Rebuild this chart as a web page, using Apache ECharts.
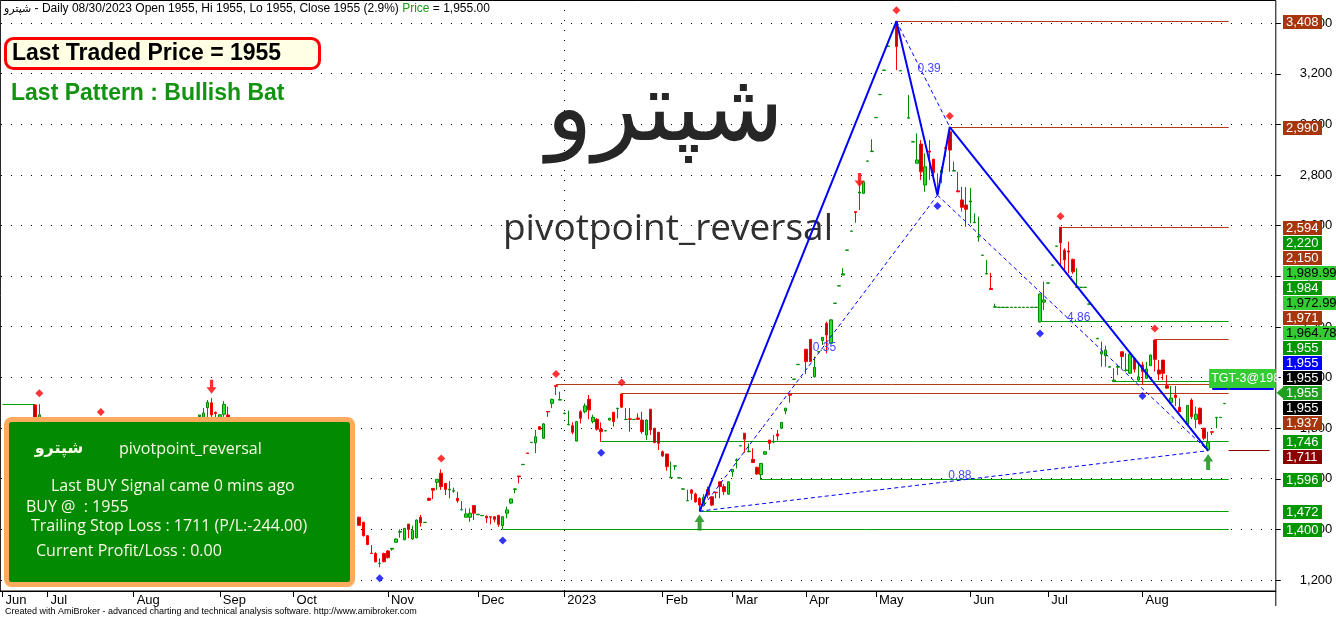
<!DOCTYPE html>
<html><head><meta charset="utf-8">
<script src="https://cdn.jsdelivr.net/npm/echarts@6/dist/echarts.min.js"></script>
<style>html,body{margin:0;padding:0;background:#fff;overflow:hidden}#c{width:1336px;height:619px}</style>
</head><body><div id="c"></div><script>
// ---------- DATA ----------
const monthNames = ['Jun','Jul','Aug','Sep','Oct','Nov','Dec','2023','Feb','Mar','Apr','May','Jun','Jul','Aug'];
const priceTicks = [1200,1400,1600,1800,2000,2200,2400,2600,2800,3000,3200,3400];
// daily bars per month: [open, close, low, high]; null = not visible (hidden behind the info panel / no bar)
const jun22 = [null,null,null,null,null,null,null,null,[1892,1830,1815,1892],[1830,1853,1812,1895],null];
const jul22 = [null,null,null,null,null,null,null,null,null,null,null,null,null,null,null,null,null,null,null,null,null];
const aug22 = [null,null,null,null,null,null,null,null,null,null,null,null,null,null,null,null,
  [1846,1852,1840,1853],[1820,1860,1810,1880],[1881,1902,1830,1911],[1900,1852,1840,1919],[1862,1858,1840,1866]];
const sep22 = [[1830,1853,1820,1855],[1855,1894,1845,1907],[1852,1820,1810,1885],
  null,null,null,null,null,null,null,null,null,null,null,null,null,null,null];
const oct22 = [null,null,null,null,null,null,null,null,null,null,null,null,null,null,null,null,
  [1448,1416,1414,1450],[1428,1375,1372,1430],[1375,1340,1338,1377],[1306,1305,1305,1338],[1305,1272,1270,1310],[1265,1266,1250,1286],[1305,1272,1270,1308]];
const nov22 = [[1315,1288,1285,1318],[1322,1325,1316,1326],[1349,1362,1347,1364],[1389,1392,1367,1400],[1359,1404,1357,1406],[1421,1400,1365,1421],[1362,1395,1358,1415],[1367,1437,1365,1439],[1448,1426,1411,1457],[1427,1428,1427,1428],[1523,1515,1513,1525],[1562,1555,1520,1562],[1586,1598,1556,1598],[1622,1569,1556,1637],[1582,1558,1536,1582],[1556,1559,1523,1591],[1551,1553,1545,1565],[1523,1513,1505,1549],[1477,1478,1477,1512],[1448,1461,1448,1483],[1448,1464,1430,1483],[1494,1464,1437,1494]];
const dec22 = [[1458,1460,1458,1460],[1454,1455,1454,1455],[1452,1445,1425,1455],[1450,1448,1420,1452],[1450,1440,1428,1452],[1455,1420,1410,1458],[1415,1450,1400,1452],[1464,1477,1444,1490],[1504,1520,1500,1522],[1558,1560,1543,1562],[1611,1608,1582,1611],[1656,1657,1656,1657],[1702,1700,1700,1702],[1743,1744,1743,1744],[1742,1766,1701,1793],[1806,1795,1793,1808],[1760,1817,1758,1819],[1866,1864,1845,1866],[1898,1914,1879,1916],[1968,1965,1931,1971],[1911,1913,1911,1944]];
const jan23 = [[1858,1859,1855,1862],[1813,1815,1813,1869],[1810,1784,1776,1823],[1749,1826,1747,1828],[1865,1839,1819,1871],[1865,1888,1859,1898],[1914,1872,1835,1931],[1826,1843,1819,1853],[1835,1796,1790,1840],[1796,1786,1746,1823],[1789,1790,1789,1790],[1832,1839,1830,1841],[1863,1826,1806,1863],[1877,1879,1839,1879],[1935,1883,1880,1937],[1834,1835,1832,1879],[1837,1835,1786,1880],[1834,1835,1833,1836],[1840,1835,1832,1858],[1832,1786,1778,1865],[1773,1832,1753,1835],[1875,1793,1773,1875],[1800,1743,1740,1800],[1784,1740,1714,1784]];
const feb23 = [[1707,1690,1686,1712],[1698,1648,1632,1698],[1604,1606,1604,1668],[1650,1651,1635,1651],[1603,1604,1603,1604],[1559,1560,1559,1560],[1513,1514,1513,1557],[1556,1543,1517,1558],[1540,1509,1505,1545],[1523,1496,1472,1527],[1494,1527,1490,1539],[1558,1536,1523,1569],[1529,1496,1492,1531],[1547,1545,1523,1548],[1588,1569,1523,1588],[1569,1549,1536,1579],[1539,1588,1537,1590]];
const mar23 = [[1627,1637,1608,1638],[1672,1675,1641,1681],[1730,1731,1730,1731],[1780,1756,1703,1780],[1707,1709,1705,1740],[1677,1664,1664,1720],[1645,1619,1615,1648],[1616,1661,1595,1662],[1697,1707,1695,1708],[1753,1740,1714,1753],[1745,1748,1740,1773],[1777,1769,1751,1793],[1800,1823,1798,1824],[1868,1879,1855,1880],[1934,1930,1901,1934],[1993,1994,1993,1994],[2051,2052,2051,2052],null];
const apr23 = [[2112,2063,2014,2112],[2151,2063,2063,2151],[2003,2041,2000,2083],[2101,2102,2101,2102],[2146,2159,2129,2160],[2214,2168,2096,2221],[2135,2228,2133,2230],[2293,2294,2293,2294],[2362,2363,2362,2363],[2405,2410,2405,2432],[2503,2504,2503,2504],[2578,2579,2578,2579],[2656,2652,2612,2656],[2729,2733,2662,2781],[2728,2774,2726,2776],[2855,2856,2855,2856],[2893,2895,2893,2942]];
const may23 = [[3027,3028,3027,3028],[3118,3119,3118,3119],[3214,3215,3214,3215],[3309,3310,3309,3310],null,[3408,3308,3215,3408],[3212,3213,3212,3213],null,[3025,3027,3025,3117],[2931,2932,2931,2935],[2847,2860,2847,2965],[2923,2813,2781,2939],[2761,2833,2734,2886],[2895,2891,2781,2939],[2863,2810,2781,2863],[2728,2744,2721,2807],[2810,2820,2768,2833],[2908,2906,2873,2910],[2971,2899,2813,2990],[2816,2818,2816,2853],[2738,2734,2734,2813],[2702,2673,2656,2754],[2682,2665,2596,2752]];
const jun23 = [[2694,2698,2610,2749],[2612,2614,2612,2649],[2555,2558,2537,2636],[2483,2484,2483,2484],[2409,2411,2409,2465],[2352,2348,2346,2414],[2278,2280,2278,2292],[2277,2278,2277,2278],[2277,2278,2277,2278],[2277,2278,2277,2278],[2277,2278,2277,2278],[2277,2278,2277,2278],[2277,2278,2277,2278],[2277,2278,2277,2278],[2277,2278,2277,2278],[2277,2278,2277,2278],[2277,2278,2277,2278],[2220,2330,2218,2332],[2298,2307,2267,2379]];
const jul23 = [[2373,2374,2373,2374],[2444,2445,2444,2445],[2519,2520,2519,2520],[2594,2533,2445,2594],[2504,2465,2425,2511],[2500,2496,2412,2537],[2467,2418,2410,2470],[2357,2359,2357,2432],[2356,2357,2356,2357],[2356,2357,2356,2357],[2290,2291,2290,2291],null,[2153,2155,2153,2155],[2093,2102,2043,2142],[2086,2109,2043,2126],[2041,2043,2041,2043],[1984,1990,1982,2037],[2041,2044,2010,2050],[2102,2083,2037,2102],[2028,2030,2023,2096],[2017,2093,2015,2095],[2076,2033,2020,2076],[1990,2003,1988,2062]];
const aug23 = [[2050,2023,1971,2062],[1997,2034,1995,2062],[2047,2089,2045,2090],[2148,2072,2024,2150],[2030,2014,1990,2069],[2069,2017,1990,2069],[1968,1958,1958,2010],[1901,1919,1897,1967],[1931,1921,1888,1967],[1883,1865,1865,1918],null,[1815,1890,1813,1890],[1911,1845,1836,1918],[1835,1855,1800,1885],[1879,1817,1815,1881],[1800,1760,1753,1800],[1714,1743,1711,1786],[1786,1784,1773,1786],[1841,1843,1800,1843],[1842,1843,1842,1843],[1897,1898,1897,1898],[1954,1955,1954,1955]];
const months = [jun22,jul22,aug22,sep22,oct22,nov22,dec22,jan23,feb23,mar23,apr23,may23,jun23,jul23,aug23];
const blankBars = 11;

// pivots [barIndex, price]
const pivotHighs = [[9,1895],[24,1820],[107,1637],[135,1971],[151,1937],[218,3408],[231,2990],[258,2594],[281,2150]];
const pivotLows = [[92,1250],[122,1400],[146,1746],[228,2721],[253,2218],[278,1971]];
const buySignals = [[170,1427],[294,1666]];
const sellSignals = [[51,1964],[209,2781]];
// harmonic pattern X A B C D
const patternPts = [[170,1472],[218,3408],[228,2721],[231,2990],[294,1711]];
const ratioLegs = [[0,2,'0.35'],[1,3,'0.39'],[2,4,'4.86'],[0,4,'0.88']];
// horizontal levels [price, fromBar, toBar, kind]
const levels = [[3408,218,299,'res'],[2990,231,299,'res'],[2594,258,299,'res'],[2150,281,299,'res'],[1971,135,299,'res'],[1937,151,299,'res'],
  [2220,253,299,'sup'],[1984,271,299,'sup'],[1746,146,299,'sup'],[1596,185,299,'sup'],[1472,170,299,'sup'],[1400,122,299,'sup'],[1892,0,8,'sup'],
  [1711,299,309,'stop'],[1955,295,310,'last']];
// price tags on the axis [value, kind, stacked]
const axisTags = [[3408,'brown',0],[2990,'brown',0],[2594,'brown',0],[2220,'green',1],[2150,'brown',1],[1989.99,'lime',1],[1984,'green',1],[1972.99,'lime',1],[1971,'brown',1],[1964.78,'lime',1],[1955,'green',1],[1955,'blue',1],[1955,'black',1],[1955,'ptr',1],[1955,'black',1],[1937,'brown',1],[1746,'green',0],[1711,'maroon',0],[1596,'green',0],[1472,'green',0],[1400,'green',0]];

// ---------- BUILD ----------
const cats = [], candles = [], monthLabelAt = {};
months.forEach((m, mi) => {
  m.forEach((b, k) => {
    if (k === 0) monthLabelAt[cats.length] = monthNames[mi];
    cats.push(monthNames[mi] + '-' + mi + '-' + k);
    candles.push(b ? b : '-');
  });
});
for (let k = 0; k < blankBars; k++) { cats.push('pad-' + k); candles.push('-'); }
const isMonthStart = (i) => monthLabelAt[i] !== undefined;
const AX = '"Liberation Sans", Arial, sans-serif';
const lineColors = {res:'#b8381a', sup:'#00a000', stop:'#8a0000', last:'#0000ff'};

const dashedSeries = ratioLegs.map(r => ({
  type:'line', xAxisIndex:0, yAxisIndex:0, data:[patternPts[r[0]], patternPts[r[1]]],
  symbol:'none', silent:true, z:4, lineStyle:{color:'#0000ff', width:1, type:[4,3]}
}));

// plot frame: 0.5..591 px ; calibration 1200 -> y=580, 3400 -> y=23.3
const PX_PER_UNIT = (580 - 23.3) / 2200;
const yMin = 1200 - (591 - 580) / PX_PER_UNIT;
const yMax = 3400 + (23.3 - 0.5) / PX_PER_UNIT;

const chart = echarts.init(document.getElementById('c'), null, {renderer:'canvas'});
const option = {
  animation:false,
  backgroundColor:'#ffffff',
  grid:[
    {left:0.35, width:1275.45, top:0.5, height:590.5, show:false, outerBoundsMode:'none', containLabel:false},
    {left:0.35, width:1275.45, top:0.5, height:590.5, show:true, borderColor:'#000', borderWidth:1, backgroundColor:'transparent', outerBoundsMode:'none', containLabel:false}
  ],
  xAxis:[
    {type:'category', gridIndex:0, data:cats, show:false, boundaryGap:true},
    {type:'category', gridIndex:1, data:cats, boundaryGap:true,
      axisLine:{show:true, lineStyle:{color:'#000', width:1}},
      axisTick:{show:true, alignWithLabel:true, interval:(i)=>isMonthStart(i), length:6, lineStyle:{color:'#000'}},
      axisLabel:{interval:(i)=>isMonthStart(i), formatter:(v,i)=>monthLabelAt[i]||'', align:'left', margin:3, padding:[0,0,0,3], color:'#000', fontSize:13, fontFamily:AX},
      splitLine:{show:false}}
  ],
  yAxis:[
    {type:'value', gridIndex:0, position:'right', min:yMin, max:yMax,
      axisLine:{show:false},
      axisTick:{show:true, inside:false, length:5, lineStyle:{color:'#000'}, customValues:priceTicks},
      axisLabel:{margin:24, color:'#000', fontSize:13, fontFamily:AX, customValues:priceTicks, formatter:(v)=>Math.round(v).toLocaleString('en-US')},
      splitLine:{show:false}},
    {type:'value', gridIndex:1, min:0, max:1, show:false}
  ],
  series:[
    {type:'candlestick', xAxisIndex:0, yAxisIndex:0, data:candles, barWidth:3, z:3,
      itemStyle:{color:'#2ee02e', color0:'#c00000', borderColor:'#008a00', borderColor0:'#ff0000', borderWidth:1}},
    {type:'line', xAxisIndex:0, yAxisIndex:0, data:patternPts, symbol:'none', silent:true, z:5,
      lineStyle:{color:'#0000ff', width:2}},
    ...dashedSeries,
    {type:'scatter', xAxisIndex:0, yAxisIndex:0, data:pivotHighs, symbol:'diamond', symbolSize:8, symbolOffset:[0,-11], itemStyle:{color:'#ff0000'}, z:6, silent:true},
    {type:'scatter', xAxisIndex:0, yAxisIndex:0, data:pivotLows, symbol:'diamond', symbolSize:8, symbolOffset:[0,11], itemStyle:{color:'#0000ff'}, z:6, silent:true},
    {type:'scatter', xAxisIndex:0, yAxisIndex:0, data:buySignals, symbol:'path://M5,0L10,7L7,7L7,15L3,15L3,7L0,7Z', symbolSize:[10,16], itemStyle:{color:'#0a8a0a'}, z:6, silent:true},
    {type:'scatter', xAxisIndex:0, yAxisIndex:0, data:sellSignals, symbol:'path://M3,0L6,0L6,7L9,7L4.5,13L0,7L3,7Z', symbolSize:[10,14], itemStyle:{color:'#ff0000'}, z:6, silent:true},
    {type:'line', xAxisIndex:1, yAxisIndex:1, data:cats.map(()=>0.5), symbol:'none', silent:true, lineStyle:{opacity:0}, z:1,
      markLine:{symbol:['none','none'], silent:true, label:{show:false}, lineStyle:{color:'#000', type:[1,9], width:1},
        data:[{xAxis: cats[Object.keys(monthLabelAt).map(Number).find(i=>monthLabelAt[i]==='2023')]}]}}
  ]
};
chart.setOption(option);

// ---------- overlays positioned from the chart scales ----------
const pt = (i, v) => chart.convertToPixel({gridIndex:0}, [i, v]);
const crisp = (v) => Math.round(v - 0.5) + 0.5;
const T = (x, y, text, font, fill, align, z, extra) => Object.assign({type:'text', x:x, y:y, z:z||50,
  style:Object.assign({text:text, font:font, fill:fill, align:align||'left', verticalAlign:'middle', textAlign:align||'left', textVerticalAlign:'middle'}, extra||{})});
const g = [];
// dotted price grid lines (from the y scale)
priceTicks.forEach(v => {
  const y = crisp(pt(0, v)[1]);
  g.push({type:'line', z:0, silent:true, shape:{x1:1, y1:y, x2:1275, y2:y}, style:{stroke:'#000', lineWidth:1, lineDash:[1,9]}});
});
// horizontal support / resistance levels
levels.forEach(l => {
  const a = pt(l[1], l[0]), b = pt(l[2], l[0]);
  const w = l[3]==='last' ? 2 : 1;
  const y = l[3]==='last' ? Math.round(a[1]) : crisp(a[1]);
  g.push({type:'line', z:2, silent:true, shape:{x1:a[0], y1:y, x2:Math.min(b[0],1275.5), y2:y}, style:{stroke:lineColors[l[3]], lineWidth:w}});
});
// background titles
g.push(T(665, 115, 'شپترو', '96px "DejaVu Sans"', '#262626', 'center', 1));
g.push(T(668, 229, 'pivotpoint_reversal', '37px "Open Sans"', '#303030', 'center', 1));
// header line
g.push({type:'text', x:4, y:9, z:50, style:{text:'{a|شپترو}{b| - Daily 08/30/2023 Open 1955, Hi 1955, Lo 1955, Close 1955 (2.9%) }{g|Price}{b| = 1,955.00}',
  verticalAlign:'middle', textVerticalAlign:'middle', rich:{a:{font:'11px "DejaVu Sans"', fill:'#000'}, b:{font:'12px '+AX, fill:'#000'}, g:{font:'12px '+AX, fill:'#1a9a1a'}}}});
// last traded price box
g.push({type:'rect', z:50, shape:{x:5.5, y:38.5, width:314, height:30, r:8}, style:{fill:'#ffffe4', stroke:'#ff0000', lineWidth:3}});
g.push(T(12, 54, 'Last Traded Price = 1955', 'bold 23px '+AX, '#000'));
g.push(T(11, 94, 'Last Pattern : Bullish Bat', 'bold 23px '+AX, '#129412'));
// info panel
g.push({type:'rect', z:60, shape:{x:6.5, y:419.5, width:346, height:165, r:5}, style:{fill:'#028a02', stroke:'#ffab5e', lineWidth:5}});
const cream = '#fafae8';
g.push(T(59, 449, 'شپترو', 'bold 16px "DejaVu Sans"', cream, 'center', 61));
g.push(T(119, 449, 'pivotpoint_reversal', '16px "Open Sans"', cream, 'left', 61));
g.push(T(51, 486, 'Last BUY Signal came 0 mins ago', '16px "Open Sans"', cream, 'left', 61));
g.push(T(26, 507, 'BUY @  : 1955', '16px "Open Sans"', cream, 'left', 61));
g.push(T(31, 526, 'Trailing Stop Loss : 1711 (P/L:-244.00)', '16px "Open Sans"', cream, 'left', 61));
g.push(T(36, 551, 'Current Profit/Loss : 0.00', '16px "Open Sans"', cream, 'left', 61));
// footer
g.push(T(5, 612, 'Created with AmiBroker - advanced charting and technical analysis software. http://www.amibroker.com', '9px '+AX, '#000'));
// axis line continuation below the x axis
g.push({type:'line', z:50, shape:{x1:1275.8, y1:591, x2:1275.8, y2:606}, style:{stroke:'#000', lineWidth:1}});
// pattern ratio labels at leg midpoints
ratioLegs.forEach(r => {
  const a = pt(patternPts[r[0]][0], patternPts[r[0]][1]);
  const b = pt(patternPts[r[1]][0], patternPts[r[1]][1]);
  g.push(T((a[0]+b[0])/2 + 6, (a[1]+b[1])/2 - 5, r[2], '12px '+AX, '#4646ff', 'center', 7));
});
// target tag
const last = patternPts[4][0];
const tgt = pt(last, 1989.99);
g.push({type:'rect', z:55, shape:{x:tgt[0]+1, y:tgt[1]-11, width:1275.8-(tgt[0]+1), height:19}, style:{fill:'#33cc33'}});
g.push(T(tgt[0]+3, tgt[1]-1.5, 'TGT-3@198', '12.5px '+AX, '#ffffff', 'left', 56));
// axis price tags
const tagColors = {brown:['#a8360c','#fff'], green:['#009600','#fff'], lime:['#33cc33','#000'], blue:['#0000ff','#fff'], black:['#000000','#fff'], ptr:['#1f9f1f','#fff'], maroon:['#8a0000','#fff']};
let prevY = -1e9;
axisTags.forEach(t => {
  let y = pt(0, t[0])[1] + 0.5;
  if (t[2]) y = prevY + 15; else y = Math.max(y, prevY + 15);
  prevY = y;
  const isInt = Number.isInteger(t[0]);
  const txt = isInt ? t[0].toLocaleString('en-US') : t[0].toLocaleString('en-US',{minimumFractionDigits:2, maximumFractionDigits:2});
  const c = tagColors[t[1]];
  g.push({type:'rect', z:70, shape:{x:1283, y:Math.round(y-7), width: isInt ? 39 : 53, height:14}, style:{fill:c[0]}});
  if (t[1]==='ptr') g.push({type:'polygon', z:70, shape:{points:[[1276.5,y],[1283.5,y-6],[1283.5,y+6]]}, style:{fill:c[0]}});
  g.push(T(1286, Math.round(y-7)+7.5, txt, '13px '+AX, c[1], 'left', 71));
});
chart.setOption({graphic:{elements:g}});
</script></body></html>
